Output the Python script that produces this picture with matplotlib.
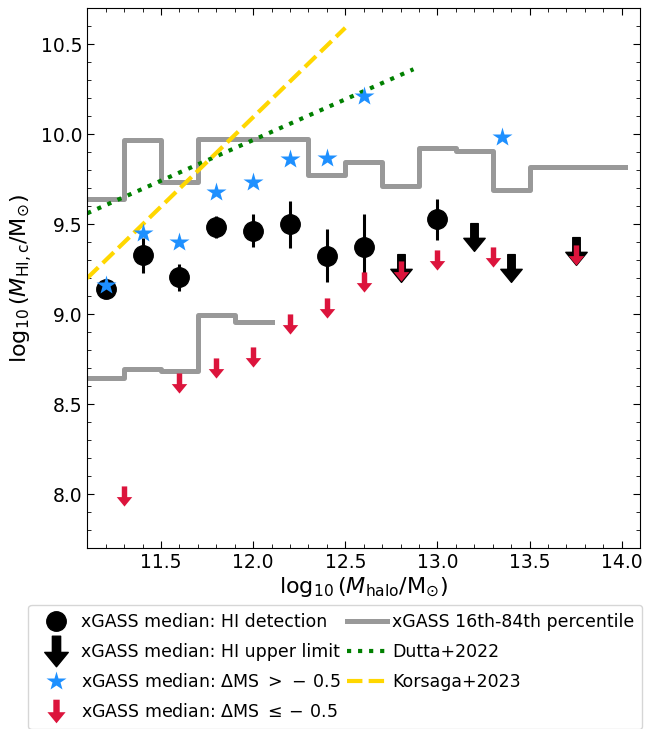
import numpy as np
import matplotlib
matplotlib.use("Agg")
import matplotlib.pyplot as plt
from matplotlib.path import Path
from matplotlib.lines import Line2D

# ---------------- data ----------------
det_x = [11.2, 11.4, 11.6, 11.8, 12.0, 12.2, 12.4, 12.6, 13.0]
det_y = [9.14, 9.33, 9.205, 9.485, 9.463, 9.50, 9.324, 9.374, 9.526]
det_lo = [9.10, 9.23, 9.13, 9.424, 9.374, 9.37, 9.18, 9.22, 9.411]
det_hi = [9.18, 9.42, 9.28, 9.545, 9.554, 9.63, 9.47, 9.554, 9.637]

ul_x = [12.8, 13.2, 13.4, 13.75]
ul_y = [9.257, 9.43, 9.257, 9.35]

star_x = [11.2, 11.4, 11.6, 11.8, 12.0, 12.2, 12.4, 12.6, 13.35]
star_y = [9.16, 9.448, 9.398, 9.676, 9.735, 9.859, 9.867, 10.211, 9.985]

red_x = [11.3, 11.6, 11.8, 12.0, 12.2, 12.4, 12.6, 12.8, 13.0, 13.3, 13.75]
red_y = [7.99, 8.62, 8.70, 8.76, 8.945, 9.035, 9.18, 9.24, 9.30, 9.315, 9.33]

up_edges = [11.1, 11.3, 11.5, 11.7, 11.9, 12.1, 12.3, 12.5, 12.7, 12.9, 13.1, 13.3, 13.5, 14.02]
up_vals = [9.637, 9.967, 9.735, 9.97, 9.97, 9.97, 9.772, 9.843, 9.711, 9.924, 9.906, 9.689, 9.818]
lo_edges = [11.1, 11.3, 11.5, 11.7, 11.9, 12.1]
lo_vals = [8.643, 8.698, 8.683, 8.994, 8.954]

dutta_x = [11.1, 12.87]
dutta_y = [9.56, 10.36]
kors_x = [11.1, 12.5]
kors_y = [9.2, 10.59]

# ---------------- markers ----------------
def arrow_marker():
    sw, hw, yb = 0.135, 0.385, -0.03
    verts = [(-sw, 0.5), (sw, 0.5), (sw, yb), (hw, yb), (0, -0.5),
             (-hw, yb), (-sw, yb), (-sw, 0.5)]
    codes = [Path.MOVETO] + [Path.LINETO] * 6 + [Path.CLOSEPOLY]
    return Path(verts, codes)

arr = arrow_marker()

fig = plt.figure(figsize=(6.46, 7.29), dpi=100)
ax = fig.add_axes([0.135, 0.248, 0.856, 0.741])

grey = '#999999'
kdash = (0, (3.7, 1.5))
ax.step(up_edges, up_vals + [up_vals[-1]], where='post', color=grey, lw=3.6, zorder=1)
ax.step(lo_edges, lo_vals + [lo_vals[-1]], where='post', color=grey, lw=3.6, zorder=1)
ax.plot(dutta_x, dutta_y, color='green', ls=':', lw=3, zorder=2)
ax.plot(kors_x, kors_y, color='gold', ls=kdash, lw=3, zorder=2)

det_y_arr = np.array(det_y)
yerr = [det_y_arr - np.array(det_lo), np.array(det_hi) - det_y_arr]
ax.errorbar(det_x, det_y, yerr=yerr, fmt='o', color='black', ms=14, elinewidth=2.2,
            capsize=0, zorder=3)
ax.plot(ul_x, ul_y, ls='none', marker=arr, ms=20, color='black', mec='black', zorder=3)
ax.plot(star_x, star_y, ls='none', marker='*', ms=15, color='dodgerblue', mec='none', zorder=4)
ax.plot(red_x, red_y, ls='none', marker=arr, ms=14.5, color='crimson', mec='none', zorder=4)

ax.set_xlim(11.1, 14.1)
ax.set_ylim(7.7, 10.7)
ax.set_xticks([11.5, 12.0, 12.5, 13.0, 13.5, 14.0])
ax.set_yticks([8.0, 8.5, 9.0, 9.5, 10.0, 10.5])
ax.set_xticks(np.arange(11.1, 14.1, 0.1), minor=True)
ax.set_yticks(np.arange(7.8, 10.7, 0.1), minor=True)
ax.tick_params(which='both', direction='in', top=True, right=True, labelsize=13.5)
ax.tick_params(which='major', length=5)
ax.tick_params(which='minor', length=3)
ax.set_xlabel(r'$\log_{10}(M_{\rm halo}/{\rm M}_{\odot})$', fontsize=16, labelpad=2)
ax.set_ylabel(r'$\log_{10}(M_{\rm HI,c}/{\rm M}_{\odot})$', fontsize=16, labelpad=4)

handles = [
    Line2D([], [], ls='none', marker='o', color='black', ms=14),
    Line2D([], [], ls='none', marker=arr, color='black', ms=22),
    Line2D([], [], ls='none', marker='*', color='dodgerblue', mec='none', ms=15),
    Line2D([], [], ls='none', marker=arr, color='crimson', mec='none', ms=17),
    Line2D([], [], color=grey, lw=3.6),
    Line2D([], [], color='green', ls=':', lw=3),
    Line2D([], [], color='gold', ls=kdash, lw=3),
]
labels = [
    'xGASS median: HI detection',
    'xGASS median: HI upper limit',
    r'xGASS median: $\Delta$MS $>\, -\, 0.5$',
    r'xGASS median: $\Delta$MS $\leq -\,0.5$',
    'xGASS 16th-84th percentile',
    'Dutta+2022',
    'Korsaga+2023',
]
fig.legend(handles, labels, loc='lower center', bbox_to_anchor=(0.519, -0.012), ncol=2,
           fontsize=12.5, handlelength=2.3, handletextpad=0.3, columnspacing=0.35,
           labelspacing=0.7, borderpad=0.45)

fig.savefig('out.png', dpi=100)
